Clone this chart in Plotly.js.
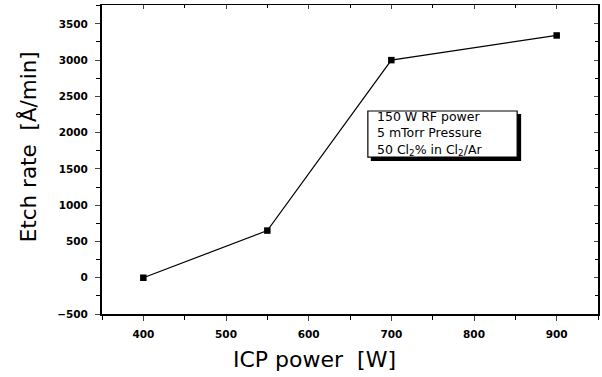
<!DOCTYPE html>
<html><head><meta charset="utf-8">
<script src="https://cdn.plot.ly/plotly-3.0.1.min.js"></script>
<style>body{margin:0;background:#fff}</style>
</head><body>
<div id="chart" style="width:602px;height:377px"></div>
<script>
const icpPower = [400, 550, 700, 900];
const etchRate = [0, 650, 3000, 3340];
const xTicks = [400, 500, 600, 700, 800, 900];
const yTicks = [-500, 0, 500, 1000, 1500, 2000, 2500, 3000, 3500];
const noteLines = ["150 W RF power", "5 mTorr Pressure", "50 Cl<sub>2</sub>% in Cl<sub>2</sub>/Ar"];
const xTitle = "ICP power  [W]";
const yTitle = "Etch rate  [Å/min]";

const fam = "'DejaVu Sans', Verdana, sans-serif";
const tickFont = {family: fam, size: 10.5, color: "#000", weight: "bold"};
const trace = {
  x: icpPower, y: etchRate, type: "scatter", mode: "lines+markers",
  line: {color: "#000", width: 1.2},
  marker: {symbol: "square", size: 6.5, color: "#000"},
  showlegend: false
};
const dummyTop = {x: icpPower, y: etchRate, xaxis: "x2", yaxis: "y2", mode: "markers",
  marker: {opacity: 0}, hoverinfo: "skip", showlegend: false};

const annotations = [{
  xref: "paper", yref: "paper", x: 0.551, y: 0.583, xanchor: "left", yanchor: "middle",
  text: noteLines.join("<br>"), align: "left", showarrow: false,
  font: {family: fam, size: 12.5, color: "#000"}
}, {
  xref: "paper", yref: "paper", x: (314 - 102) / 496, y: -0.146, xanchor: "center", yanchor: "middle",
  text: xTitle, showarrow: false, font: {family: fam, size: 22, color: "#000"}
}, {
  xref: "paper", yref: "paper", x: -0.149, y: 0.54, xanchor: "center", yanchor: "middle",
  textangle: -90, text: yTitle, showarrow: false, font: {family: fam, size: 21.5, color: "#000"}
}];

const layout = {
  width: 602, height: 377,
  margin: {l: 102, r: 4, t: 5, b: 63},
  paper_bgcolor: "#fff", plot_bgcolor: "#fff",
  font: {family: fam, size: 10, color: "#000"},
  xaxis: {
    range: [350, 950], tickvals: xTicks, ticks: "outside", ticklen: 5, tickwidth: 1,
    minor: {dtick: 50, ticks: "outside", ticklen: 4, tickcolor: "#000"},
    showline: true, linewidth: 2, linecolor: "#000", showgrid: false, zeroline: false,
    tickfont: tickFont, ticklabelstandoff: 4
  },
  yaxis: {
    range: [-500, 3760], tickvals: yTicks, ticks: "outside", ticklen: 5, tickwidth: 1,
    minor: {dtick: 250, ticks: "outside", ticklen: 4, tickcolor: "#000"},
    showline: true, linewidth: 2, linecolor: "#000", showgrid: false, zeroline: false,
    tickfont: tickFont, ticklabelstandoff: 5
  },
  xaxis2: {
    overlaying: "x", side: "top", matches: "x", range: [350, 950], tickvals: xTicks,
    ticks: "inside", ticklen: 4, showticklabels: false, showline: true, linewidth: 1.5,
    linecolor: "#000", showgrid: false, zeroline: false,
    minor: {dtick: 50, ticks: "inside", ticklen: 3, tickcolor: "#000"}
  },
  yaxis2: {
    overlaying: "y", side: "right", range: [-500, 3760], tickvals: yTicks,
    ticks: "inside", ticklen: 4, showticklabels: false, showline: true, linewidth: 1.5,
    linecolor: "#000", showgrid: false, zeroline: false,
    minor: {dtick: 250, ticks: "inside", ticklen: 3, tickcolor: "#000"}
  },
  shapes: [{
    type: "rect", xref: "paper", yref: "paper",
    x0: 0.542, x1: 0.845, y0: 0.495, y1: 0.647,
    fillcolor: "#000", line: {width: 0}, layer: "above"
  }, {
    type: "rect", xref: "paper", yref: "paper",
    x0: 0.536, x1: 0.837, y0: 0.508, y1: 0.657,
    fillcolor: "#fff", line: {width: 1.2, color: "#000"}, layer: "above"
  }],
  annotations: annotations
};

Plotly.newPlot("chart", [trace, dummyTop], layout, {displayModeBar: false, staticPlot: true});
</script>
</body></html>
